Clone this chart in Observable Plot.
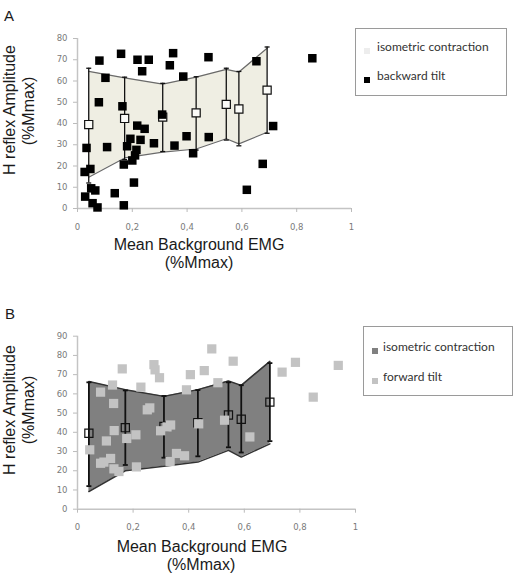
<!DOCTYPE html>
<html><head><meta charset="utf-8">
<script src="https://cdn.jsdelivr.net/npm/d3@7"></script>
<script src="https://cdn.jsdelivr.net/npm/@observablehq/plot@0.6"></script>
<style>
body{margin:0;background:#fff;}
#root{position:relative;width:517px;height:581px;overflow:hidden;font-family:"Liberation Sans",Arial,sans-serif;color:#1a1a1a;}
.abs{position:absolute;white-space:nowrap;line-height:1;}
.c{transform:translate(-50%,-50%);}
.r{transform:translate(-50%,-50%) rotate(-90deg);}
.title{font-size:16px;}
.plot{position:absolute;left:0;}
.legend{position:absolute;border:1px solid #9a9a9a;background:#fff;font-family:Lato,"Liberation Sans",sans-serif;font-size:12px;color:#333;box-sizing:border-box;}
.sw{position:absolute;width:6px;height:6px;}
.lt{position:absolute;transform:translateY(-50%);white-space:nowrap;line-height:1;}
</style></head><body><div id="root"></div>
<script>
// isometric contraction: mean ± SD at each background EMG level
const isoX     = [0.041, 0.172, 0.311, 0.433, 0.543, 0.589, 0.692];
const isoMean  = [39.5, 42.4, 43.0, 45.0, 49.0, 46.8, 55.7];
const sdHigh   = [66.0, 61.8, 58.9, 62.0, 66.0, 64.5, 76.0];
const sdLow    = [12.0, 23.0, 26.8, 27.5, 32.2, 29.5, 35.4];
// shaded band edges as drawn in each panel
const bandHighA = [64.5, 61.5, 58.5, 61.8, 65.5, 64.2, 75.4];
const bandLowA  = [14.7, 23.8, 26.5, 28.0, 32.8, 30.4, 35.9];
const bandHighB = [66.4, 62.2, 58.7, 62.2, 66.7, 64.4, 76.9];
const bandLowB  = [9.2, 20.0, 22.3, 24.5, 30.6, 27.1, 34.0];

// backward tilt (panel A)
const backX = [0.080,0.102,0.078,0.159,0.164,0.219,0.260,0.236,0.218,0.245,0.337,0.349,0.386,0.478,0.309,0.653,0.857,0.714,0.033,0.108,0.026,0.047,0.028,0.050,0.065,0.055,0.073,0.136,0.169,0.169,0.181,0.193,0.230,0.215,0.200,0.206,0.279,0.354,0.398,0.422,0.479,0.676,0.618,0.210];
const backY = [69.6,61.5,50.0,72.8,48.1,70.0,70.0,64.6,39.0,37.5,67.4,73.1,62.1,71.2,44.2,69.3,70.7,38.8,28.5,28.9,17.2,18.6,5.6,9.5,8.5,2.5,0.5,7.2,1.5,20.7,29.3,32.8,32.3,27.6,22.6,12.2,30.7,29.6,34.0,26.0,33.6,21.0,8.8,25.0];

// forward tilt (panel B)
const fwdX = [0.083,0.126,0.130,0.161,0.228,0.275,0.279,0.295,0.251,0.260,0.392,0.406,0.456,0.483,0.505,0.560,0.736,0.784,0.848,0.938,0.044,0.083,0.104,0.132,0.119,0.131,0.149,0.177,0.210,0.212,0.299,0.322,0.335,0.333,0.356,0.385,0.436,0.529,0.620,0.095];
const fwdY = [60.9,64.6,55.0,73.0,63.5,75.2,72.5,68.4,51.7,52.7,62.1,70.0,72.1,83.4,65.8,77.0,71.3,76.4,58.3,74.8,30.9,23.9,35.5,40.9,26.4,21.0,19.6,36.8,38.7,22.0,40.8,42.8,43.8,24.8,29.0,27.8,44.4,46.3,37.6,24.5];

// axes
const xTicks = [0, 0.2, 0.4, 0.6, 0.8, 1];
const xTickLabels = ["0", "0,2", "0,4", "0,6", "0,8", "1"];
const yTicksA = [0, 10, 20, 30, 40, 50, 60, 70, 80];
const yTicksB = [0, 10, 20, 30, 40, 50, 60, 70, 80, 90];

const iso = isoX.map((x, i) => ({x, mean: isoMean[i], hi: sdHigh[i], lo: sdLow[i],
  bhA: bandHighA[i], blA: bandLowA[i], bhB: bandHighB[i], blB: bandLowB[i]}));
const backward = backX.map((x, i) => ({x, y: backY[i]}));
const forward = fwdX.map((x, i) => ({x, y: fwdY[i]}));

const cap = {draw(ctx, size) { const w = Math.sqrt(size / Math.PI); ctx.moveTo(-w, 0); ctx.lineTo(w, 0); }};

function panel(o) {
  return Plot.plot({
    width: 517, height: o.height,
    marginLeft: 77, marginRight: o.marginRight, marginTop: o.marginTop, marginBottom: o.marginBottom,
    x: {domain: [0, 1]}, y: {domain: o.yDomain},
    style: {background: "transparent", fontFamily: "DejaVu Sans, sans-serif", overflow: "visible"},
    marks: [
      Plot.ruleY([0], {stroke: "#c4c4c4", strokeWidth: 1.5}),
      Plot.ruleX([0], {stroke: "#c4c4c4", strokeWidth: 1.5}),
      Plot.axisX({ticks: xTicks, tickFormat: (d, i) => xTickLabels[i], tickSize: 4, tickPadding: 11, stroke: "#bbb", fill: "#7a7a7a", fontSize: 8.5, label: null}),
      Plot.axisY({ticks: o.yTicks, tickSize: 4, tickPadding: 6, stroke: "#bbb", fill: "#7a7a7a", fontSize: 8.5, label: null}),
      Plot.areaY(iso, {x: "x", y1: o.lo, y2: o.hi, fill: o.bandFill}),
      Plot.lineY(iso, {x: "x", y: o.hi, stroke: o.edge, strokeWidth: o.edgeW}),
      Plot.lineY(iso, {x: "x", y: o.lo, stroke: o.edge, strokeWidth: o.edgeW}),
      Plot.ruleX(iso, {x: "x", y1: "lo", y2: "hi", stroke: "#111", strokeWidth: o.barW}),
      Plot.dot(iso, {x: "x", y: "hi", symbol: cap, r: 2.5, stroke: "#111", strokeWidth: o.barW}),
      Plot.dot(iso, {x: "x", y: "lo", symbol: cap, r: 2.5, stroke: "#111", strokeWidth: o.barW}),
      Plot.dot(iso, {x: "x", y: "mean", symbol: "square", r: 4.6, stroke: "#111", fill: o.meanFill, strokeWidth: 1.2}),
      Plot.dot(o.points, {x: "x", y: "y", symbol: "square", r: o.pr, fill: o.pfill})
    ]
  });
}

const root = document.getElementById("root");
const pA = panel({height: 290, marginRight: 166, marginTop: 38, marginBottom: 82, yDomain: [0, 80], yTicks: yTicksA,
  lo: "blA", hi: "bhA", bandFill: "#efeee3", edge: "#6a6a6a", edgeW: 1.2, barW: 1.3, meanFill: "#fbfbf8",
  points: backward, pr: 4.8, pfill: "#000"});
pA.classList.add("plot"); pA.style.top = "0px";
root.appendChild(pA);
const pB = panel({height: 291, marginRight: 162, marginTop: 45.7, marginBottom: 72.3, yDomain: [0, 90], yTicks: yTicksB,
  lo: "blB", hi: "bhB", bandFill: "#808080", edge: "#333", edgeW: 1.5, barW: 1.8, meanFill: "none",
  points: forward, pr: 5.2, pfill: "#c3c3c3"});
pB.classList.add("plot"); pB.style.top = "290px";
root.appendChild(pB);

function text(t, x, y, cls, size) {
  const d = document.createElement("div");
  d.className = "abs " + cls; d.textContent = t;
  d.style.left = x + "px"; d.style.top = y + "px";
  if (size) d.style.fontSize = size + "px";
  root.appendChild(d);
}
text("A", 9, 15, "c", 15);
text("B", 10, 313, "c", 15);
text("H reflex Amplitude", 10, 110, "r title");
text("(%Mmax)", 29, 111, "r title");
text("Mean Background EMG", 199, 245, "c title");
text("(%Mmax)", 199, 263, "c title");
text("H reflex Amplitude", 10, 410, "r title");
text("(%Mmax)", 29, 410, "r title");
text("Mean Background EMG", 202, 547, "c title");
text("(%Mmax)", 201, 565, "c title");

function legend(left, top, w, h, rows) {
  const L = document.createElement("div");
  L.className = "legend";
  Object.assign(L.style, {left: left + "px", top: top + "px", width: w + "px", height: h + "px"});
  rows.forEach(r => {
    const s = document.createElement("div");
    s.className = "sw"; s.style.background = r.color;
    s.style.left = r.sx + "px"; s.style.top = (r.y + 1) + "px";
    L.appendChild(s);
    const t = document.createElement("div");
    t.className = "lt"; t.textContent = r.label;
    t.style.left = r.tx + "px"; t.style.top = r.y + "px";
    L.appendChild(t);
  });
  root.appendChild(L);
}
legend(355, 28, 152, 68, [
  {label: "isometric contraction", color: "#ededed", sx: 8, tx: 21, y: 18},
  {label: "backward tilt", color: "#000", sx: 8, tx: 21, y: 47}
]);
legend(363, 326, 150, 70, [
  {label: "isometric contraction", color: "#808080", sx: 8, tx: 19, y: 20},
  {label: "forward tilt", color: "#c3c3c3", sx: 8, tx: 19, y: 50}
]);
</script>
</body></html>
